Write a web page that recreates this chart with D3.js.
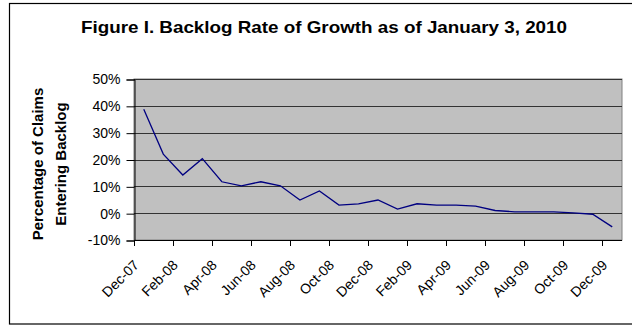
<!DOCTYPE html>
<html>
<head>
<meta charset="utf-8">
<script src="https://cdn.jsdelivr.net/npm/d3@7"></script>
<style>
html,body{margin:0;padding:0;background:#fff;}
svg{display:block;}
text{font-family:"Liberation Sans",Arial,sans-serif;}
</style>
</head>
<body>
<svg id="chart" width="632" height="328"></svg>
<script>
const months = ["Dec-07","Jan-08","Feb-08","Mar-08","Apr-08","May-08","Jun-08","Jul-08","Aug-08","Sep-08","Oct-08","Nov-08","Dec-08","Jan-09","Feb-09","Mar-09","Apr-09","May-09","Jun-09","Jul-09","Aug-09","Sep-09","Oct-09","Nov-09","Dec-09"];
const growth = [38.7,22.0,14.2,20.3,11.7,10.2,11.7,10.2,4.9,8.3,3.0,3.5,4.9,1.5,3.5,3.0,3.0,2.6,1.0,0.5,0.5,0.5,0.1,-0.4,-5.1];
const yTicks = [-10,0,10,20,30,40,50];
const tickLabelMonths = months.filter((d,i)=>i%2===0);
const titleText = "Figure I. Backlog Rate of Growth as of January 3, 2010";
const yTitleLines = ["Percentage of Claims","Entering Backlog"];

const svg = d3.select("#chart");
const plot = {left:134, right:622, top:79, bottom:240};

// outer border
svg.append("rect").attr("x",9.5).attr("y",3.5).attr("width",640).attr("height",320.5)
  .attr("fill","none").attr("stroke","#000").attr("stroke-width",1.2);

const x = d3.scaleBand().domain(months).range([plot.left,plot.right]).padding(0);
const y = d3.scaleLinear().domain([-10,50]).range([plot.bottom,plot.top]);

// plot background
svg.append("rect").attr("x",plot.left).attr("y",plot.top)
  .attr("width",plot.right-plot.left).attr("height",plot.bottom-plot.top)
  .attr("fill","#c0c0c0").attr("stroke","#808080").attr("stroke-width",1);

// gridlines
svg.append("g").selectAll("line").data(yTicks.filter(d=>d>-10)).join("line")
  .attr("x1",plot.left).attr("x2",plot.right)
  .attr("y1",d=>Math.round(y(d))+0.5).attr("y2",d=>Math.round(y(d))+0.5)
  .attr("stroke","#333").attr("stroke-width",1);

// y axis
const yAxis = d3.axisLeft(y).tickValues(yTicks).tickFormat(d=>d+"%").tickSize(8).tickPadding(6);
const gy = svg.append("g").attr("transform",`translate(${plot.left+0.5},0.5)`).call(yAxis);
gy.select(".domain").attr("stroke","#000");
gy.selectAll(".tick line").attr("stroke","#000");
gy.selectAll("text").attr("font-size",14).attr("fill","#000")
  .attr("font-family","'Liberation Sans',Arial,sans-serif");

// x axis: ticks at category boundaries every 2 months
const boundaries = tickLabelMonths.map(m=>x(m));
const gx = svg.append("g");
gx.append("line").attr("x1",plot.left).attr("x2",plot.right)
  .attr("y1",plot.bottom+0.5).attr("y2",plot.bottom+0.5).attr("stroke","#000");
gx.selectAll("line.t").data(boundaries).join("line").attr("class","t")
  .attr("x1",d=>Math.round(d)+0.5).attr("x2",d=>Math.round(d)+0.5)
  .attr("y1",plot.bottom).attr("y2",plot.bottom+6).attr("stroke","#000");
gx.selectAll("text").data(tickLabelMonths).join("text")
  .attr("transform",d=>`translate(${x(d)+x.bandwidth()/2-4},${plot.bottom+26}) rotate(-45)`)
  .attr("text-anchor","end").attr("font-size",14).attr("fill","#000")
  .text(d=>d);

// line
const line = d3.line().x((d,i)=>x(months[i])+x.bandwidth()/2).y(d=>y(d));
svg.append("path").datum(growth).attr("d",line)
  .attr("fill","none").attr("stroke","#000080").attr("stroke-width",1.3);

// title
svg.append("text").attr("x",324).attr("y",33).attr("text-anchor","middle")
  .attr("font-size",16.5).attr("font-weight","bold")
  .attr("textLength",486).attr("lengthAdjust","spacingAndGlyphs").text(titleText);

// y title
const yt = svg.append("text").attr("transform",`translate(0,164) rotate(-90)`)
  .attr("text-anchor","middle").attr("font-size",15).attr("font-weight","bold");
yt.selectAll("tspan").data(yTitleLines).join("tspan")
  .attr("x",0).attr("y",(d,i)=>i===0?43:66).text(d=>d);
</script>
</body>
</html>
